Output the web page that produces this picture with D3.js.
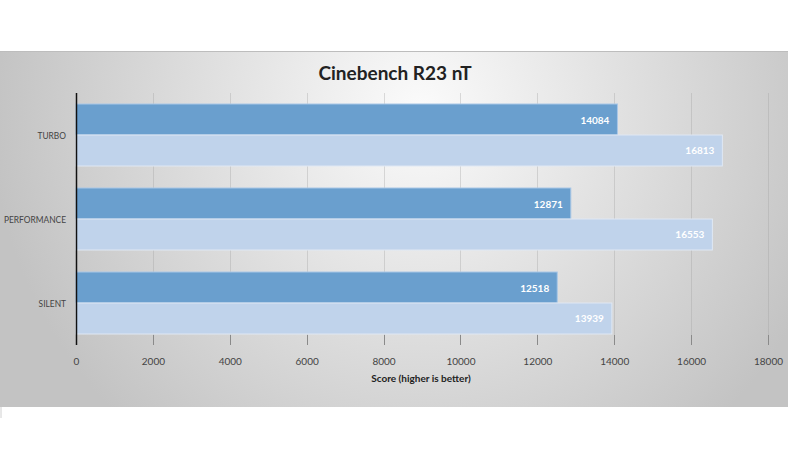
<!DOCTYPE html>
<html><head><meta charset="utf-8">
<script src="https://cdn.jsdelivr.net/npm/d3@7"></script>
<style>body{margin:0;background:#fff;}svg{display:block;}</style>
</head><body>
<svg id="c" width="788" height="470"></svg>
<script>
const categories = ["TURBO", "PERFORMANCE", "SILENT"];
const seriesA = [14084, 12871, 12518];
const seriesB = [16813, 16553, 13939];
const xTicks = [0, 2000, 4000, 6000, 8000, 10000, 12000, 14000, 16000, 18000];
const chartTitle = "Cinebench R23 nT";
const xTitle = "Score (higher is better)";

(function(){
const svg = d3.select("#c");
const font = "Lato, 'Open Sans', sans-serif";
const defs = svg.append("defs");
const rg = defs.append("radialGradient").attr("id","bg").attr("gradientUnits","userSpaceOnUse")
  .attr("cx",420).attr("cy",110).attr("r",430);
rg.append("stop").attr("offset","0").attr("stop-color","#fbfbfb");
rg.append("stop").attr("offset","1").attr("stop-color","#c3c3c3");

svg.append("rect").attr("x",0).attr("y",51).attr("width",788).attr("height",356).attr("fill","url(#bg)");
svg.append("line").attr("x1",0).attr("x2",788).attr("y1",51.5).attr("y2",51.5).attr("stroke","#bdbdbd");
svg.append("line").attr("x1",1).attr("x2",1).attr("y1",407).attr("y2",418).attr("stroke","#d0d0d0");

const x = d3.scaleLinear().domain([0,18000]).range([76,768]);
const y = d3.scaleBand().domain(categories).range([93,345]).paddingInner(0.262).paddingOuter(0.131);
const pTop = 93, pBottom = 345;

svg.append("g").selectAll("line").data(xTicks.slice(1)).join("line")
  .attr("x1",d=>Math.round(x(d))+0.5).attr("x2",d=>Math.round(x(d))+0.5)
  .attr("y1",pTop).attr("y2",pBottom-10).attr("stroke","rgba(160,160,160,0.35)");

const bh = y.bandwidth()/2;
const g = svg.append("g");
categories.forEach((c,i)=>{
  const y0 = y(c);
  g.append("rect").attr("x",x(0)).attr("y",y0).attr("width",x(seriesA[i])-x(0)).attr("height",bh)
    .attr("fill","#6a9fce").attr("stroke","#a9c7e6").attr("stroke-width",1);
  g.append("rect").attr("x",x(0)).attr("y",y0+bh).attr("width",x(seriesB[i])-x(0)).attr("height",bh)
    .attr("fill","#c0d3eb").attr("stroke","#dfe8f4").attr("stroke-width",1);
  g.append("text").attr("x",x(seriesA[i])-8).attr("y",y0+bh/2+4).attr("text-anchor","end")
    .attr("font-family",font).attr("font-weight","bold").attr("font-size",10).attr("fill","#fff").text(seriesA[i]);
  g.append("text").attr("x",x(seriesB[i])-8).attr("y",y0+bh*1.5+4).attr("text-anchor","end")
    .attr("font-family",font).attr("font-weight","bold").attr("font-size",10).attr("fill","#fff").text(seriesB[i]);
  svg.append("text").attr("transform",`translate(66,${y0+bh+4}) scale(0.84,1)`).attr("text-anchor","end")
    .attr("font-family",font).attr("font-size",10).attr("fill","#444").text(c);
});

const ax = svg.append("g").attr("transform",`translate(0,${pBottom})`)
  .call(d3.axisBottom(x).tickValues(xTicks).tickFormat(d=>d).tickSize(0).tickPadding(13));
ax.select(".domain").remove();
ax.selectAll("text").attr("font-family",font).attr("font-size",10).attr("fill","#444");
svg.append("g").selectAll("line").data(xTicks.slice(1)).join("line")
  .attr("x1",d=>Math.round(x(d))+0.5).attr("x2",d=>Math.round(x(d))+0.5)
  .attr("y1",pBottom-10).attr("y2",pBottom).attr("stroke","#8a8a8a");

svg.append("line").attr("x1",76.5).attr("x2",76.5).attr("y1",pTop).attr("y2",pBottom).attr("stroke","#111").attr("stroke-width",1.5);

svg.append("text").attr("x",395).attr("y",80).attr("text-anchor","middle")
  .attr("font-family",font).attr("font-weight","bold").attr("font-size",19).attr("fill","#222").text(chartTitle);
svg.append("text").attr("x",421).attr("y",382).attr("text-anchor","middle")
  .attr("font-family",font).attr("font-weight","bold").attr("font-size",10).attr("fill","#222").text(xTitle);
})();
</script>
</body></html>
